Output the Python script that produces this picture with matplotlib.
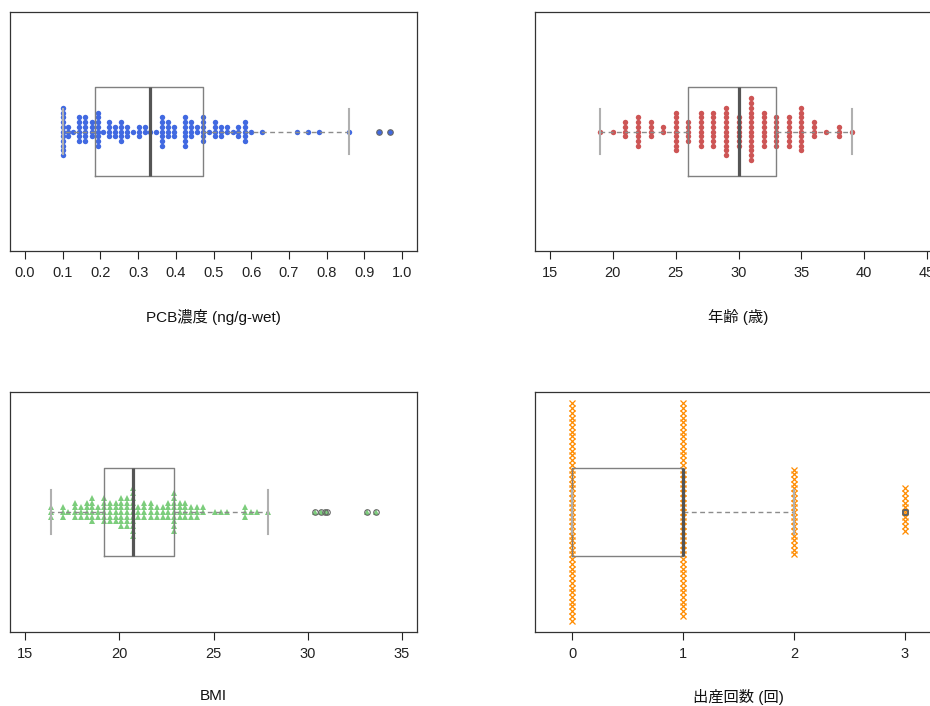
import numpy as np
import matplotlib
matplotlib.use('Agg')
import matplotlib.pyplot as plt

# values (bin position, number of points)
pcb_vals = [0.100, 0.113, 0.128, 0.144, 0.159, 0.177, 0.193, 0.208, 0.224, 0.239,
            0.255, 0.270, 0.286, 0.301, 0.317, 0.332, 0.347, 0.363, 0.378, 0.394,
            0.424, 0.440, 0.457, 0.471, 0.488, 0.504, 0.519, 0.535, 0.551, 0.566,
            0.584, 0.599, 0.628, 0.721, 0.752, 0.780, 0.860, 0.939, 0.968]
pcb_counts = [11, 3, 1, 6, 6, 4, 8, 1, 4, 3,
              5, 3, 1, 3, 2, 1, 1, 7, 4, 3,
              7, 4, 2, 6, 1, 4, 3, 2, 1, 3,
              5, 1, 1, 1, 1, 1, 1, 1, 1]

age_vals = [19, 20, 21, 22, 23, 24, 25, 26, 27, 28, 29,
            30, 31, 32, 33, 34, 35, 36, 37, 38, 39]
age_counts = [1, 1, 4, 7, 4, 2, 9, 5, 8, 8, 11,
              7, 14, 8, 7, 7, 10, 4, 1, 3, 1]

bmi_vals = [16.38, 16.99, 17.30, 17.65, 17.95, 18.27, 18.57, 18.89, 19.20, 19.50,
            19.80, 20.10, 20.43, 20.75, 21.00, 21.33, 21.67, 21.99, 22.30, 22.60,
            22.90, 23.20, 23.50, 23.80, 24.10, 24.46, 25.08, 25.38, 25.70, 26.67,
            26.97, 27.30, 27.88, 30.40, 30.70, 30.90, 31.00, 33.15, 33.60]
bmi_counts = [3, 3, 1, 4, 3, 4, 6, 3, 6, 5,
              5, 7, 7, 11, 3, 4, 4, 3, 3, 4,
              9, 4, 4, 3, 3, 2, 1, 1, 1, 3,
              1, 1, 1, 1, 1, 1, 1, 1, 1]

birth_vals = [0, 1, 2, 3]
birth_counts = [47, 46, 19, 10]

W, H = 930, 706
fig = plt.figure(figsize=(W / 100, H / 100), dpi=100)

JP = ['Liberation Sans', 'Noto Sans CJK JP']
plt.rcParams['font.family'] = JP

AX_W = 407


def make_ax(x0, y0, y1):
    return fig.add_axes([x0 / W, 1 - y1 / H, AX_W / W, (y1 - y0) / H])


def swarm_offsets(n):
    # 0, +1, -1, +2, -2 ... (extra point goes on top)
    offs = []
    for i in range(n):
        k = (i + 1) // 2
        offs.append(k if i % 2 == 1 else -k)
    return np.array(offs, dtype=float)


def panel(ax, vals, counts, xlim, ticks, ticklabels, xlabel, color, marker, msize,
          mew=0.0, labelpad=21):
    ylo, yhi = 0.46, 1.54
    ax.set_ylim(ylo, yhi)
    pad = (xlim[1] - xlim[0]) * 0.04
    ax.set_xlim(xlim[0] - pad, xlim[1] + pad)
    hpx = ax.get_position().height * H
    dy = 4.72 * (yhi - ylo) / hpx

    xs, ys = [], []
    for v, c in zip(vals, counts):
        off = swarm_offsets(c)
        xs.extend([v] * c)
        ys.extend(1 + off * dy)
    if marker == 'x':
        ax.plot(xs, ys, linestyle='none', marker='x', color=color,
                markersize=msize, markeredgewidth=mew, zorder=2)
    else:
        ax.plot(xs, ys, linestyle='none', marker=marker, color=color,
                markersize=msize, markeredgewidth=0, zorder=2)

    data = np.repeat(vals, counts)
    ax.boxplot(data, orientation='horizontal', positions=[1], widths=0.4, whis=1.5,
               manage_ticks=False,
               boxprops=dict(color='#808080', linewidth=1.0),
               medianprops=dict(color='#555555', linewidth=2.3),
               whiskerprops=dict(color='#8c8c8c', linewidth=1.0, linestyle=(0, (3.5, 2.5))),
               capprops=dict(color='#b0b0b0', linewidth=1.5),
               flierprops=dict(marker='o', markerfacecolor='none', markeredgecolor='#666666',
                               markersize=4, markeredgewidth=0.8),
               zorder=3)

    ax.set_yticks([])
    ax.set_xticks(ticks)
    ax.set_xticklabels(ticklabels)
    ax.tick_params(axis='x', length=6, width=0.8, pad=5, labelsize=10.5,
                   colors='#222222')
    for s in ax.spines.values():
        s.set_color('#333333')
        s.set_linewidth(0.9)
    ax.set_xlabel(xlabel, fontsize=11, labelpad=labelpad, color='#111111')


ax1 = make_ax(10, 12, 251)
ax2 = make_ax(535, 12, 251)
ax3 = make_ax(10, 392, 632)
ax4 = make_ax(535, 392, 632)

pcb_ticks = np.round(np.arange(0, 1.01, 0.1), 1)
panel(ax1, pcb_vals, pcb_counts, (0, 1), pcb_ticks, ['%.1f' % t for t in pcb_ticks],
      'PCB濃度 (ng/g-wet)', '#4169E1', 'o', 3.9)

age_ticks = [15, 20, 25, 30, 35, 40, 45]
panel(ax2, age_vals, age_counts, (15, 45), age_ticks, [str(t) for t in age_ticks],
      '年齢 (歳)', '#CD5555', 'o', 3.9)

bmi_ticks = [15, 20, 25, 30, 35]
panel(ax3, bmi_vals, bmi_counts, (15, 35), bmi_ticks, [str(t) for t in bmi_ticks],
      'BMI', '#7CCD7C', '^', 4.6, labelpad=20)

birth_ticks = [0, 1, 2, 3]
panel(ax4, birth_vals, birth_counts, (-0.2, 3.2), birth_ticks, [str(t) for t in birth_ticks],
      '出産回数 (回)', '#FF8C00', 'x', 3.8, mew=0.9, labelpad=20)

fig.savefig('out.png', dpi=100)
